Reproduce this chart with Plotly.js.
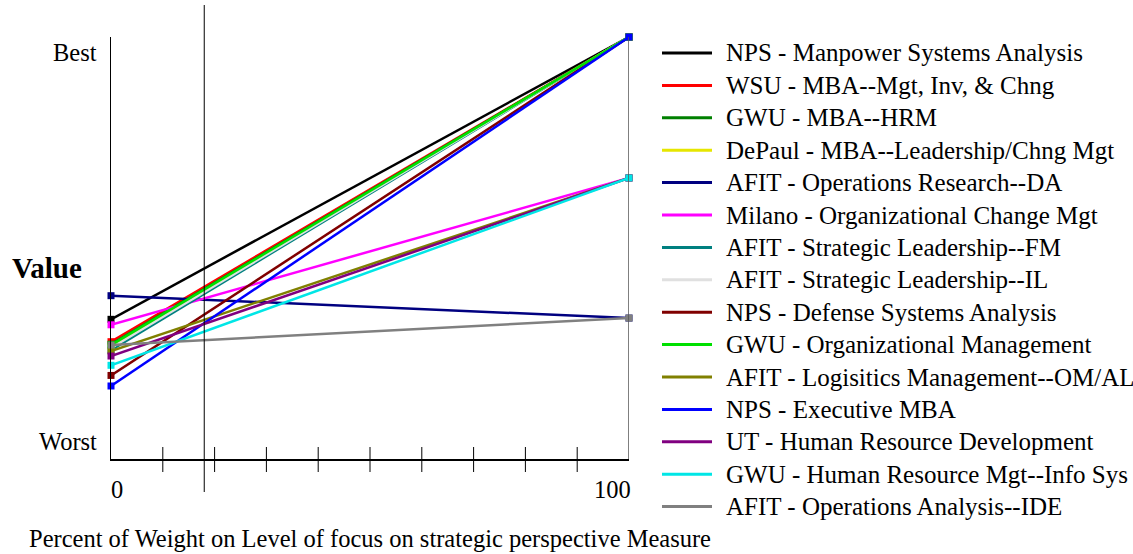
<!DOCTYPE html>
<html>
<head>
<meta charset="utf-8">
<script src="https://cdn.plot.ly/plotly-3.0.1.min.js"></script>
<style>html,body{margin:0;padding:0;background:#fff;}#chart{width:1133px;height:554px;}</style>
</head>
<body>
<div id="chart"></div>
<script>
// Data
const seriesNames = [
  "NPS - Manpower Systems Analysis",
  "WSU - MBA--Mgt, Inv, & Chng",
  "GWU - MBA--HRM",
  "DePaul - MBA--Leadership/Chng Mgt",
  "AFIT - Operations Research--DA",
  "Milano - Organizational Change Mgt",
  "AFIT - Strategic Leadership--FM",
  "AFIT - Strategic Leadership--IL",
  "NPS - Defense Systems Analysis",
  "GWU - Organizational Management",
  "AFIT - Logisitics Management--OM/AL",
  "NPS - Executive MBA",
  "UT - Human Resource Development",
  "GWU - Human Resource Mgt--Info Sys",
  "AFIT - Operations Analysis--IDE"
];
const seriesColors = ["#000000","#ff0000","#008000","#e6e600","#000080","#ff00ff","#008080","#e0e0e0","#800000","#00e000","#808000","#0000ff","#800080","#00e6e6","#808080"];
const weightPoints = [0, 100];
const valueAt0   = [0.331, 0.278, 0.272, 0.265, 0.387, 0.318, 0.258, 0.263, 0.198, 0.270, 0.256, 0.173, 0.244, 0.222, 0.270];
const valueAt100 = [1.0, 1.0, 1.0, 1.0, 0.334, 0.666, 1.0, 1.0, 1.0, 1.0, 0.666, 1.0, 0.666, 0.666, 0.334];
const currentWeight = 18;
const tickPositions = [10, 20, 30, 40, 50, 60, 70, 80, 90];
const xTickLabels = ["0", "100"];
const yTickLabels = ["Worst", "Best"];

const serif = "Liberation Serif";
const FS = 24.5;

// plot area geometry (px): left 111, right 629, top 37, bottom 459
const PW = 518, PH = 422;
const px2x = p => (p - 111) / PW;
const py2y = p => (459 - p) / PH;

// later series are drawn on top, as in the original
const traces = seriesNames.map((nm, i) => ({
  x: weightPoints,
  y: [valueAt0[i], valueAt100[i]],
  name: nm,
  mode: "lines+markers",
  line: {color: seriesColors[i], width: 2.5},
  marker: {symbol: "square", size: 7, color: seriesColors[i]},
  cliponaxis: false,
  showlegend: false,
  hoverinfo: "name+y"
}));

const shapes = [];
// vertical current-weight line
shapes.push({type: "line", xref: "x", yref: "paper", x0: currentWeight, x1: currentWeight, y0: py2y(492), y1: py2y(5), line: {color: "#000", width: 1}});
// right border line
shapes.push({type: "line", xref: "x", yref: "paper", x0: 100, x1: 100, y0: 0, y1: 1, line: {color: "#555", width: 1.5}});
// crossing tick marks
tickPositions.forEach(t => shapes.push({type: "line", xref: "x", yref: "paper", x0: t, x1: t, y0: py2y(472), y1: py2y(447), line: {color: "#000", width: 1}}));

const annotations = [
  {xref: "x", yref: "paper", x: 0, y: py2y(489), text: xTickLabels[0], showarrow: false, xanchor: "left", yanchor: "middle", xshift: -2, font: {family: serif, size: FS, color: "#000"}},
  {xref: "x", yref: "paper", x: 100, y: py2y(489), text: xTickLabels[1], showarrow: false, xanchor: "right", yanchor: "middle", xshift: 4, font: {family: serif, size: FS, color: "#000"}},
  {xref: "paper", yref: "paper", x: px2x(99), y: py2y(441), text: yTickLabels[0], showarrow: false, xanchor: "right", yanchor: "middle", font: {family: serif, size: FS, color: "#000"}},
  {xref: "paper", yref: "paper", x: px2x(99), y: py2y(53), text: yTickLabels[1], showarrow: false, xanchor: "right", yanchor: "middle", font: {family: serif, size: FS, color: "#000"}},
  {xref: "paper", yref: "paper", x: px2x(47), y: py2y(268), text: "<b>Value</b>", showarrow: false, xanchor: "center", yanchor: "middle", font: {family: serif, size: 29, color: "#000"}}
];

// legend built from the series names / colours
seriesNames.forEach((nm, i) => {
  const yc = 53 + 32.4 * i;
  shapes.push({type: "line", xref: "paper", yref: "paper", x0: px2x(662), x1: px2x(712), y0: py2y(yc), y1: py2y(yc), line: {color: seriesColors[i], width: 3}});
  annotations.push({xref: "paper", yref: "paper", x: px2x(724), y: py2y(yc), text: nm, showarrow: false, xanchor: "left", yanchor: "middle", font: {family: serif, size: 25, color: "#000"}});
});

const layout = {
  width: 1133, height: 554,
  margin: {l: 111, r: 504, t: 37, b: 95},
  paper_bgcolor: "#fff", plot_bgcolor: "#fff",
  showlegend: false,
  font: {family: serif, color: "#000"},
  xaxis: {
    range: [0, 100], showgrid: false, zeroline: false,
    showline: true, linecolor: "#000", linewidth: 1.5,
    showticklabels: false, ticks: "",
    title: {text: "Percent of Weight on Level of focus on strategic perspective Measure", font: {family: serif, size: FS, color: "#000"}, standoff: 70},
    fixedrange: true
  },
  yaxis: {
    range: [0, 1], showgrid: false, zeroline: false,
    showline: true, linecolor: "#000", linewidth: 1.5,
    showticklabels: false, ticks: "",
    fixedrange: true
  },
  shapes: shapes,
  annotations: annotations
};

Plotly.newPlot("chart", traces, layout, {displayModeBar: false, staticPlot: true});
</script>
</body>
</html>
